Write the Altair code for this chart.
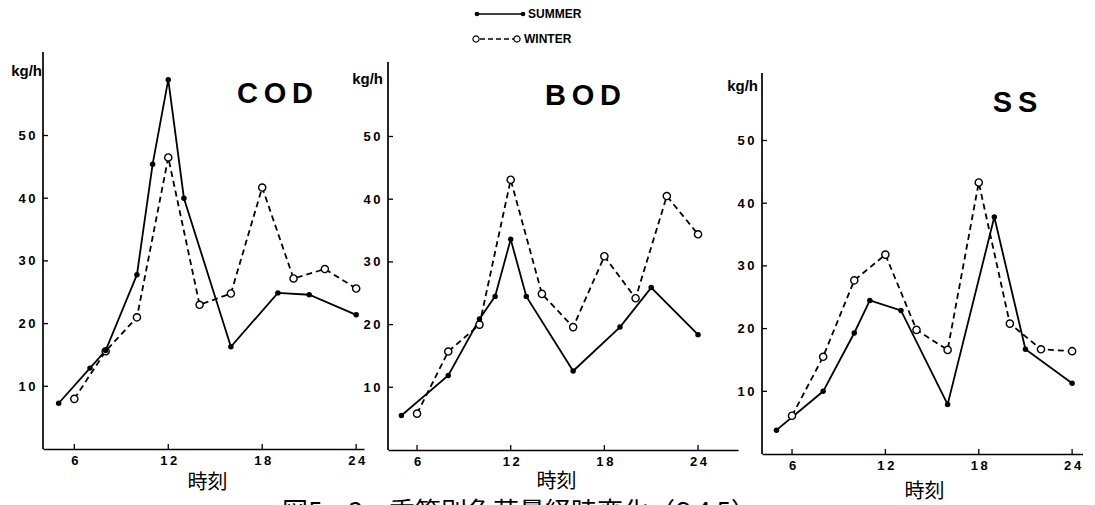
import altair as alt
import pandas as pd

# ---------------- data ----------------
cod_sum_h = [5, 7, 8, 10, 11, 12, 13, 16, 19, 21, 24]
cod_sum_v = [7.3, 12.9, 15.7, 27.8, 45.4, 58.9, 40.0, 16.3, 24.9, 24.6, 21.4]
cod_win_h = [6, 8, 10, 12, 14, 16, 18, 20, 22, 24]
cod_win_v = [8.0, 15.6, 21.0, 46.5, 23.0, 24.8, 41.7, 27.2, 28.7, 25.6]

bod_sum_h = [5, 8, 10, 11, 12, 13, 16, 19, 21, 24]
bod_sum_v = [5.5, 11.9, 20.9, 24.5, 33.6, 24.5, 12.6, 19.6, 25.9, 18.4]
bod_win_h = [6, 8, 10, 12, 14, 16, 18, 20, 22, 24]
bod_win_v = [5.8, 15.7, 20.0, 43.1, 24.9, 19.6, 30.9, 24.2, 40.5, 34.4]

ss_sum_h = [5, 8, 10, 11, 13, 16, 19, 21, 24]
ss_sum_v = [3.8, 10.0, 19.3, 24.5, 22.9, 7.9, 37.8, 16.7, 11.3]
ss_win_h = [6, 8, 10, 12, 14, 16, 18, 20, 22, 24]
ss_win_v = [6.1, 15.5, 27.7, 31.8, 19.8, 16.6, 43.3, 20.8, 16.7, 16.4]

x_ticks = [6, 12, 18, 24]
y_ticks = [10, 20, 30, 40, 50]
panel_titles = ["C\u2009O\u2009D", "B\u2009O\u2009D", "S\u2009S"]
x_title = "時刻"
y_unit = "kg/h"
legend_labels = ["SUMMER", "WINTER"]
caption = "図5 − 3　季節別負荷量経時変化（S 4 5）"

BOLD = "Liberation Sans, Arial, sans-serif"
CJK = "Noto Sans CJK JP"
ONE = alt.Data(values=[{"k": 1}])


def series_df(h, v):
    return pd.DataFrame({"hour": h, "value": v})


def panel(title, sh, sv, wh, wv, width, height, xdom, title_xy, unit_xy,
          axis_top, xt_x, xt_y, extra=None):
    ydom = [0, height / 6.27]
    xs = alt.Scale(domain=xdom, nice=False, zero=False)
    ys = alt.Scale(domain=ydom, nice=False, zero=True)
    xaxis = alt.Axis(values=x_ticks, title=x_title, ticks=False, grid=False,
                     domainWidth=1.7, labelPadding=5,
                     labelExpr="join(split(datum.label, ''), '\u2009')",
                     titleFont=CJK, titleFontSize=20, titleFontWeight="normal",
                     titleX=xt_x, titleY=xt_y, titleBaseline="middle",
                     titleAnchor="start", titleAlign="center")
    yaxis = alt.Axis(values=y_ticks, title=None, ticks=False, grid=False,
                     domain=False, labelPadding=8,
                     labelExpr="join(split(datum.label, ''), '\u2009')")

    win = series_df(wh, wv)
    summ = series_df(sh, sv)

    win_line = alt.Chart(win).mark_line(color="black", strokeWidth=1.8,
                                        strokeDash=[6, 4]).encode(
        x=alt.X("hour:Q", scale=xs, axis=xaxis),
        y=alt.Y("value:Q", scale=ys, axis=yaxis))
    sum_line = alt.Chart(summ).mark_line(color="black", strokeWidth=1.8).encode(
        x="hour:Q", y="value:Q")
    win_pts = alt.Chart(win).mark_point(shape="circle", filled=True, fill="white",
                                        stroke="black", strokeWidth=1.4, size=52,
                                        opacity=1).encode(x="hour:Q", y="value:Q")
    sum_pts = alt.Chart(summ).mark_point(shape="circle", filled=True, color="black",
                                         size=30, opacity=1).encode(x="hour:Q", y="value:Q")

    yrule = alt.Chart(ONE).mark_rule(color="black", strokeWidth=1.7).encode(
        x=alt.value(0), y=alt.value(height), y2=alt.value(axis_top))
    xt = alt.Chart(pd.DataFrame({"t": x_ticks})).mark_rule(color="black", strokeWidth=1.3).encode(
        x=alt.X("t:Q"), y=alt.value(height), y2=alt.value(height - 5))
    yt = alt.Chart(pd.DataFrame({"t": y_ticks})).mark_rule(color="black", strokeWidth=1.3).encode(
        y=alt.Y("t:Q"), x=alt.value(0), x2=alt.value(5))

    ttl = alt.Chart(ONE).mark_text(font=BOLD, fontSize=29, fontWeight="bold",
                                   align="center", baseline="middle", color="black").encode(
        x=alt.value(title_xy[0]), y=alt.value(title_xy[1]), text=alt.value(title))
    unit = alt.Chart(ONE).mark_text(font=BOLD, fontSize=15, fontWeight="bold",
                                    align="right", baseline="middle", color="black").encode(
        x=alt.value(unit_xy[0]), y=alt.value(unit_xy[1]), text=alt.value(y_unit))

    layers = [win_line, sum_line, win_pts, sum_pts, yrule, xt, yt, ttl, unit]
    if extra:
        layers += extra
    return alt.layer(*layers).properties(width=width, height=height)


# legend + caption (drawn in the middle panel)
leg_sum_line = alt.Chart(ONE).mark_rule(color="black", strokeWidth=1.4).encode(
    x=alt.value(89), x2=alt.value(135), y=alt.value(6))
leg_sum_p1 = alt.Chart(ONE).mark_point(shape="circle", filled=True, color="black",
                                       size=22, opacity=1).encode(x=alt.value(89), y=alt.value(6))
leg_sum_p2 = alt.Chart(ONE).mark_point(shape="circle", filled=True, color="black",
                                       size=22, opacity=1).encode(x=alt.value(135), y=alt.value(6))
leg_win_line = alt.Chart(ONE).mark_rule(color="black", strokeWidth=1.4, strokeDash=[5, 3]).encode(
    x=alt.value(92), x2=alt.value(126), y=alt.value(31))
leg_win_p1 = alt.Chart(ONE).mark_point(shape="circle", filled=True, fill="white", stroke="black",
                                       strokeWidth=1.2, size=38, opacity=1).encode(
    x=alt.value(88), y=alt.value(31))
leg_win_p2 = alt.Chart(ONE).mark_point(shape="circle", filled=True, fill="white", stroke="black",
                                       strokeWidth=1.2, size=38, opacity=1).encode(
    x=alt.value(129), y=alt.value(31))
leg_sum_t = alt.Chart(ONE).mark_text(font=BOLD, fontSize=12, fontWeight="bold", align="left",
                                     baseline="middle", color="black").encode(
    x=alt.value(140), y=alt.value(6), text=alt.value(legend_labels[0]))
leg_win_t = alt.Chart(ONE).mark_text(font=BOLD, fontSize=12, fontWeight="bold", align="left",
                                     baseline="middle", color="black").encode(
    x=alt.value(136), y=alt.value(31), text=alt.value(legend_labels[1]))
cap = alt.Chart(ONE).mark_text(font=CJK, fontSize=26, align="left", baseline="alphabetic",
                               color="black").encode(
    x=alt.value(-106), y=alt.value(513), text=alt.value(caption))

legend_layers = [leg_sum_line, leg_sum_p1, leg_sum_p2, leg_win_line, leg_win_p1, leg_win_p2,
                 leg_sum_t, leg_win_t, cap]

p1 = panel(panel_titles[0], cod_sum_h, cod_sum_v, cod_win_h, cod_win_v,
           321, 441, [4.0, 24.5], (232, 86), (-1, 63), 44, 164, 33)
p2 = panel(panel_titles[1], bod_sum_h, bod_sum_v, bod_win_h, bod_win_v,
           350, 442, [4.14, 26.56], (195, 88), (-5, 71), 54, 168, 31, legend_layers)
p3 = panel(panel_titles[2], ss_sum_h, ss_sum_v, ss_win_h, ss_win_v,
           321, 446, [4.07, 24.7], (253, 95), (-4, 78), 65, 162, 37)

chart = alt.hconcat(p1, p2, p3, spacing=24, bounds="flush").properties(
    padding={"left": 3, "top": 0, "right": 0, "bottom": 0}
).configure_view(stroke=None).configure_axis(
    labelFont=BOLD, labelFontWeight="bold", labelFontSize=13, labelColor="black",
    domainColor="black", titleColor="black"
)

chart.save("out.html", embed_options={"renderer": "svg", "actions": False})
